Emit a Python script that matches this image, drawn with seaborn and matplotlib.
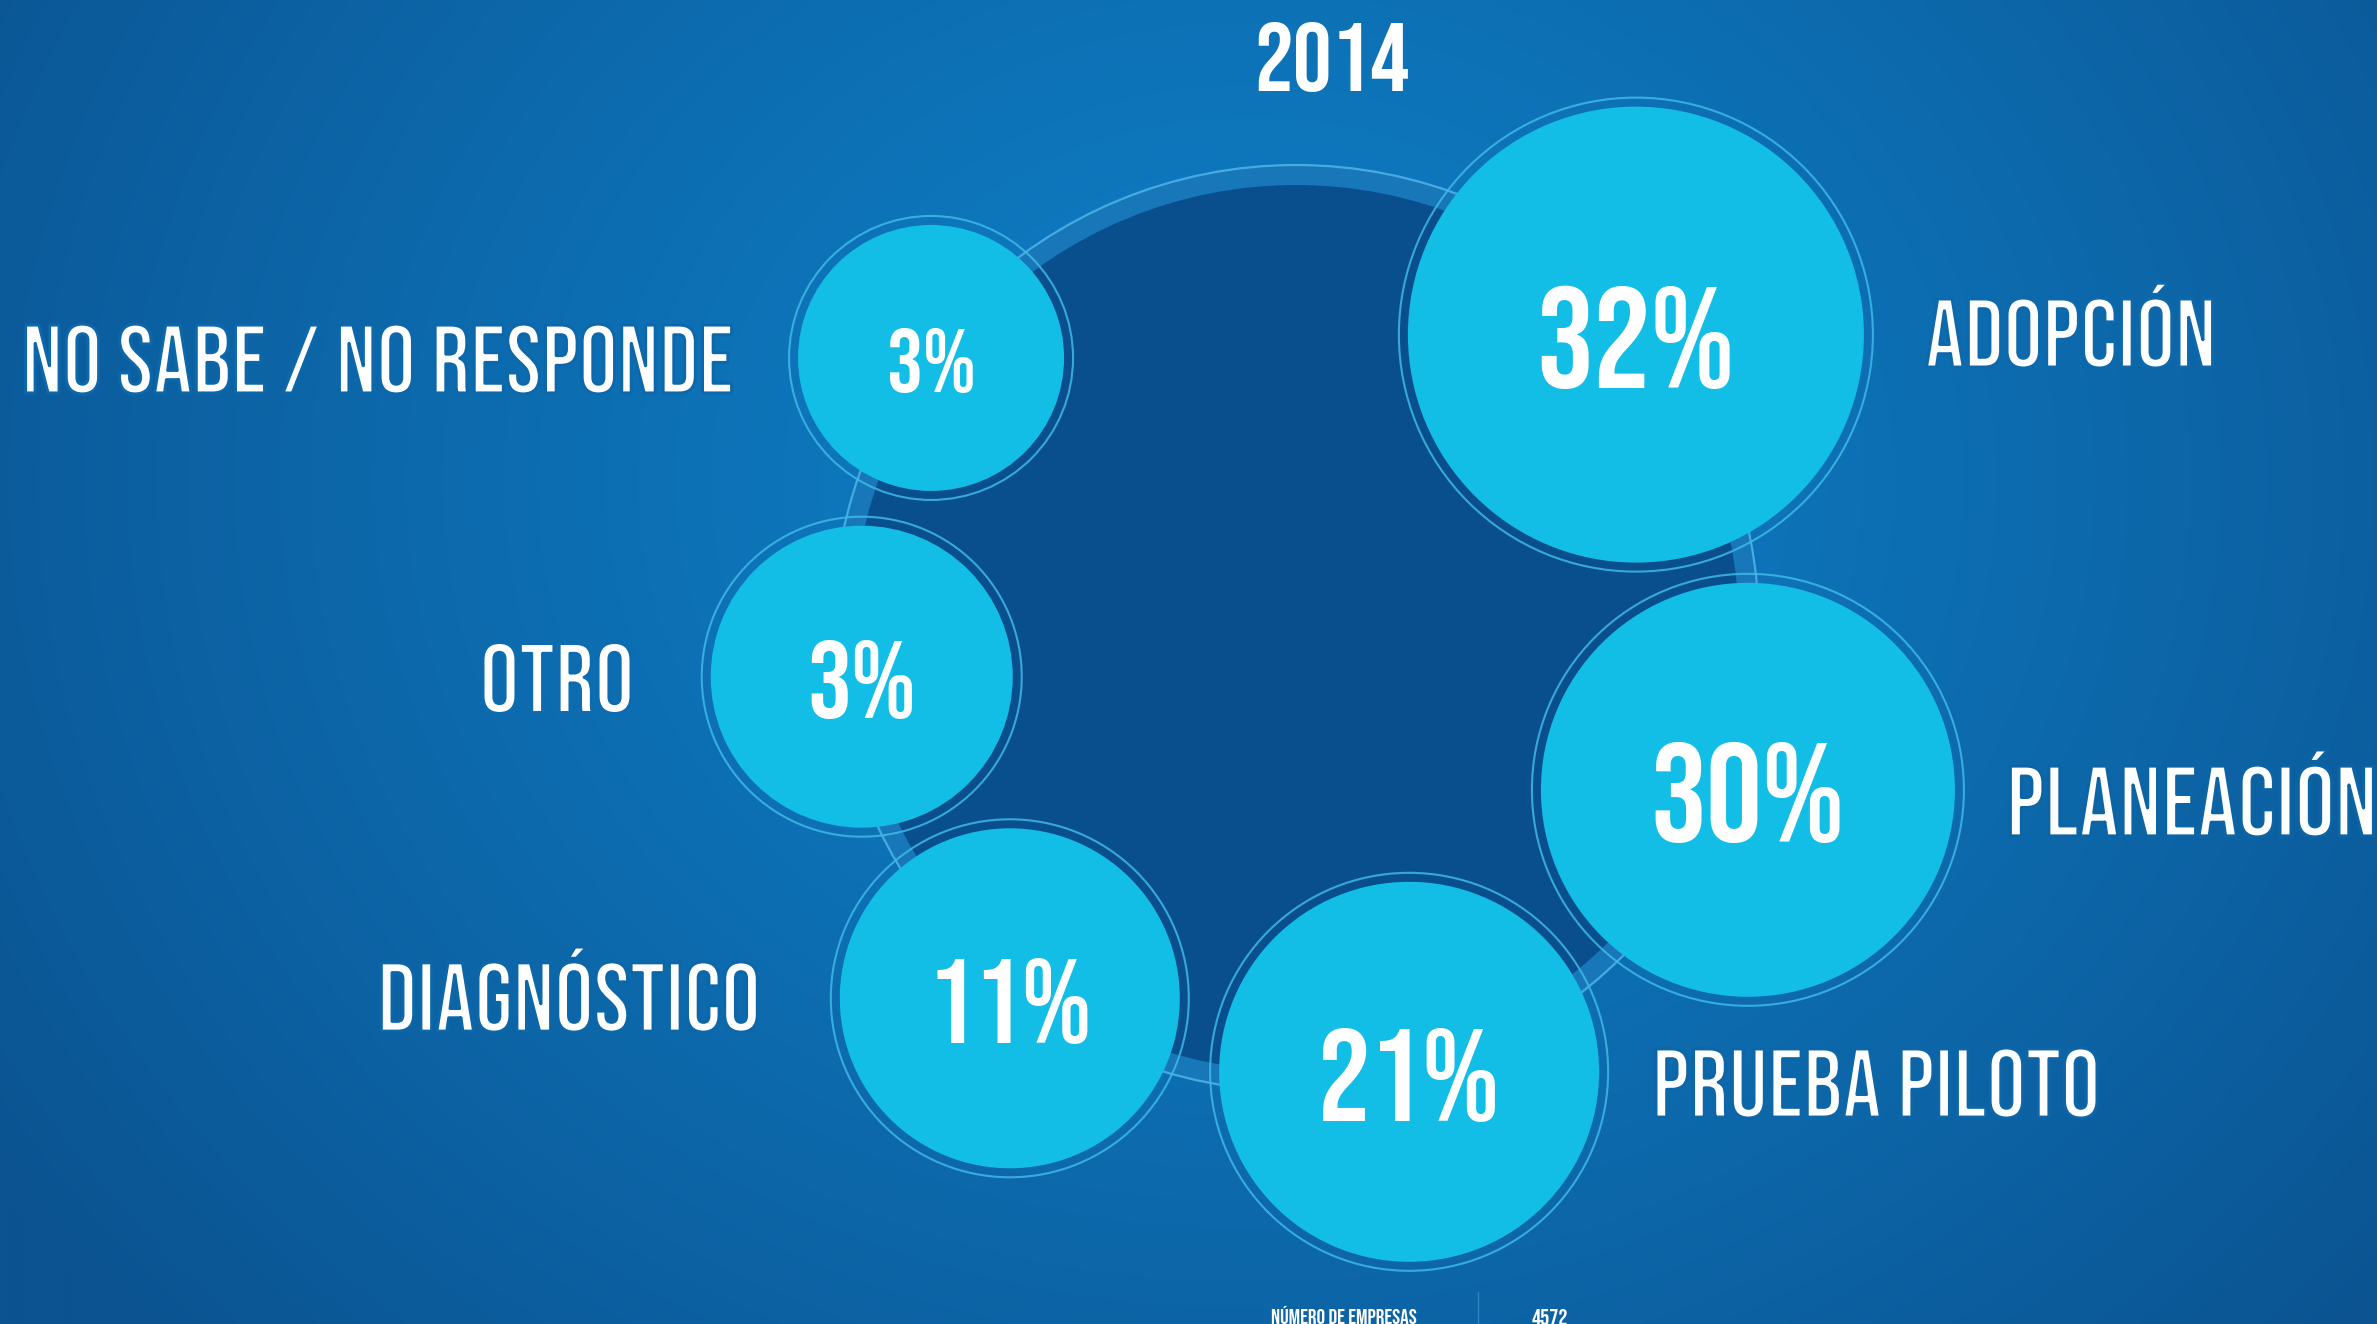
import os
import re
import numpy as np
import pandas as pd
import matplotlib
matplotlib.use("Agg")
import matplotlib.pyplot as plt
import matplotlib.colors as mcolors
import matplotlib.patheffects as pe
from matplotlib import font_manager as fm
from matplotlib.font_manager import FontProperties
from matplotlib.textpath import TextPath
from matplotlib.patches import Circle
import seaborn as sns

# ---------------- data ----------------
title = "2014"
categories = ["ADOPCIÓN", "PLANEACIÓN", "PRUEBA PILOTO", "DIAGNÓSTICO", "OTRO", "NO SABE / NO RESPONDE"]
values = [32, 30, 21, 11, 3, 3]
footer_label = "NÚMERO DE EMPRESAS"
footer_value = "4572"

# ---------------- layout (pixels of the 2377x1324 canvas) ----------------
W, H, DPI = 2377, 1324, 100
ring_center = (1296, 628)
ring_outer, ring_inner = 463, 443
bubble_angle = [40.8, -19.7, -75.7, 232.3, 186.4, 143.5]     # degrees around the ring
bubble_dist = [449, 480, 458, 468, 437, 454]
bubble_radius = [228, 207, 190, 170, 151, 133]
pct_cap = [100, 98, 92, 83, 77, 63]
pct_maxw = [220, 203, 186, 160, 108, 94]
label_pos = [(2071, 333), (2192, 801), (1876, 1083), (569, 997), (557, 678), (378, 359)]
label_cap = [70, 72, 70, 67, 70, 68]
label_maxw = [283, 360, 438, 373, 145, 703]

BG_CENTER = "#0e7ec5"
BG_EDGE = "#0b5391"
DARK_FILL = "#0a4f8d"
RING_BAND = "#1877b9"
RING_LINE = "#45abe2"
BUBBLE = "#13bee6"
BUBBLE_RING = "#3fb8e8"


# ---------------- font choice: prefer condensed sans ----------------
def _weight(e):
    w = e.weight
    if isinstance(w, str):
        w = fm.weight_dict.get(w, 400)
    return int(w)


def pick_font(target):
    pat = re.compile(r"^(NotoSans-|OpenSans|Roboto(Condensed)?-|DejaVuSans|LiberationSans|BebasNeue|Oswald|Lato|Inter)")
    best, best_score = None, -1e9
    for e in fm.fontManager.ttflist:
        base = os.path.basename(e.fname)
        if not pat.match(base) or "[" in base:
            continue
        if e.style != "normal" or "Italic" in base or "Oblique" in base or "Mono" in base:
            continue
        b = base.lower()
        if "bebas" in b or "oswald" in b:
            lvl = 4
        elif "extracondensed" in b or "ultracondensed" in b:
            lvl = 3
        elif "semicondensed" in b:
            lvl = 1
        elif "condensed" in b or "narrow" in b or "cond" in b:
            lvl = 2
        else:
            lvl = 0
        bonus = 0
        if "robotocondensed" in b:
            bonus = 60
        elif "notosans" in b:
            bonus = 50
        elif "liberationsansnarrow" in b:
            bonus = 30
        score = lvl * 1000 + bonus - abs(_weight(e) - target) / 2
        if score > best_score:
            best, best_score = e.fname, score
    return best


FONT_BOLD = pick_font(700)
FONT_LABEL = pick_font(400)

# ---------------- figure ----------------
fig = plt.figure(figsize=(W / DPI, H / DPI), dpi=DPI)
ax = fig.add_axes([0, 0, 1, 1])
ax.axis("off")

c0 = np.array(mcolors.to_rgb(BG_CENTER))
c1 = np.array(mcolors.to_rgb(BG_EDGE))


def bg_color(x, y):
    d = np.hypot((x - 1250) / 1.0, (y - 480) / 0.85)
    t = np.clip(d / 1500.0, 0, 1) ** 1.25
    t = np.asarray(t)[..., None]
    return c0 * (1 - t) + c1 * t


# background radial gradient
yy, xx = np.mgrid[0:H:4, 0:W:4]
ax.imshow(bg_color(xx, yy), extent=[0, W, H, 0], interpolation="bilinear", aspect="auto", zorder=0)

# central circle
ax.add_patch(Circle(ring_center, ring_outer, fc=RING_BAND, ec="none", zorder=1))
ax.add_patch(Circle(ring_center, ring_inner, fc=DARK_FILL, ec="none", zorder=1.1))
ax.add_patch(Circle(ring_center, ring_outer, fc="none", ec=RING_LINE, lw=1.6, zorder=1.2))

# bubbles
ang = np.deg2rad(bubble_angle)
bx = ring_center[0] + np.array(bubble_dist) * np.cos(ang)
by = ring_center[1] - np.array(bubble_dist) * np.sin(ang)
df = pd.DataFrame({"categoria": categories, "valor": values, "x": bx, "y": by})
area = {c: (2 * r * 72 / DPI) ** 2 for c, r in zip(categories, bubble_radius)}
sns.scatterplot(data=df, x="x", y="y", size="categoria", sizes=area, color=BUBBLE,
                linewidth=0, legend=False, ax=ax, zorder=3)
for x0, y0, r in zip(bx, by, bubble_radius):
    ax.add_patch(Circle((x0, y0), r + 9, fc="none", ec=BUBBLE_RING, lw=1.5, alpha=0.85, zorder=3.1))


# text helper: fit to cap height / max width; optional thinning of strokes
def fit_text(x, y, s, cap_px, max_w_px, font, color="white", thin=0.0):
    fp = FontProperties(fname=font) if font else FontProperties(family="DejaVu Sans")
    cap_ratio = TextPath((0, 0), "H", size=100, prop=fp).get_extents().height / 100
    w_ratio = TextPath((0, 0), s, size=100, prop=fp).get_extents().width / 100
    size_px = min((cap_px + 2 * thin) / cap_ratio, (max_w_px + 2 * thin) / w_ratio)
    real_cap = cap_ratio * size_px
    fp2 = fp.copy()
    fp2.set_size(size_px * 72 / DPI)
    effects = None
    if thin > 0:
        effects = [pe.Normal(),
                   pe.Stroke(linewidth=2 * thin * 72 / DPI, foreground=tuple(bg_color(x, y)))]
    ax.text(x, y + real_cap / 2, s, fontproperties=fp2, ha="center", va="baseline",
            color=color, zorder=6, path_effects=effects)


for i, (c, v) in enumerate(zip(df["categoria"], df["valor"])):
    fit_text(bx[i], by[i] + 3, f"{v}%", pct_cap[i], pct_maxw[i], FONT_BOLD)
    lx, ly = label_pos[i]
    fit_text(lx, ly, c, label_cap[i], label_maxw[i], FONT_LABEL, thin=1.5)

fit_text(1332, 57, title, 70, 150, FONT_BOLD)
fit_text(1344, 1317, footer_label, 15, 162, FONT_BOLD)
fit_text(1550, 1317, footer_value, 16, 46, FONT_BOLD)
ax.plot([1478, 1478], [1292, 1330], color="#3f93d0", lw=1, alpha=0.7, zorder=5)

ax.set_xlim(0, W)
ax.set_ylim(H, 0)
fig.savefig("out.png", dpi=DPI)
